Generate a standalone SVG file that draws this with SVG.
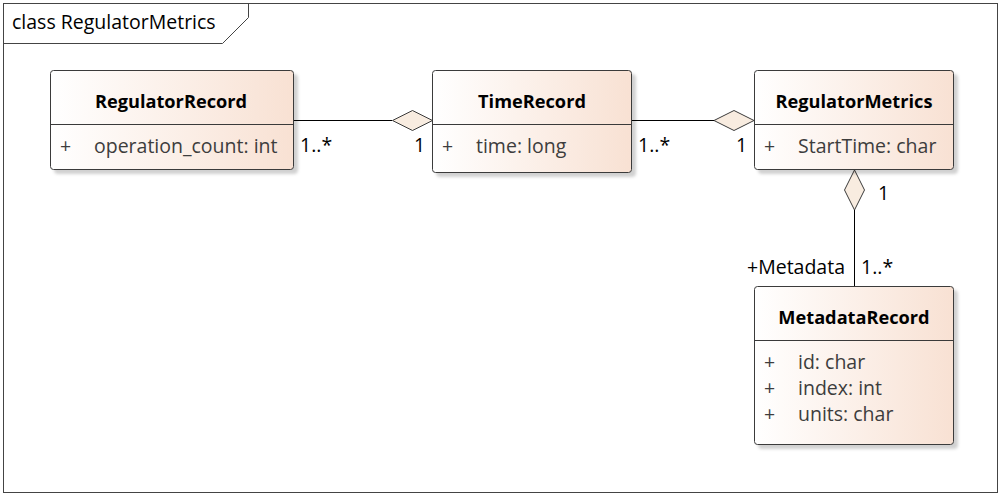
<svg xmlns="http://www.w3.org/2000/svg" width="1004" height="496" viewBox="0 0 1004 496">
<defs>
<linearGradient id="g" x1="0" y1="0" x2="1" y2="0">
<stop offset="0" stop-color="#ffffff"/>
<stop offset="1" stop-color="#f8e1d3"/>
</linearGradient>
<filter id="sh" x="-10%" y="-10%" width="130%" height="130%">
<feDropShadow dx="4" dy="4" stdDeviation="1.5" flood-color="#000" flood-opacity="0.18"/>
</filter>
</defs>
<style>
.box{fill:url(#g);stroke:#3a3a3a;stroke-width:1;filter:url(#sh)}
.sep{stroke:#3a3a3a;stroke-width:1}
.t{font-family:"Open Sans","Noto Sans",sans-serif;font-weight:bold;font-size:18.2px;fill:#000;text-anchor:middle}
.a{font-family:"Open Sans","Noto Sans",sans-serif;font-size:19.5px;fill:#3d3d3d}
.m{font-family:"Open Sans","Noto Sans",sans-serif;font-size:19.5px;fill:#000}
.ln{stroke:#000;stroke-width:1;fill:none}
.dm{fill:#f8ece0;stroke:#3a3a3a;stroke-width:1}
</style>
<rect width="1004" height="496" fill="#fff"/>
<rect x="3.5" y="3.5" width="994" height="489" fill="none" stroke="#444" stroke-width="1"/>
<path d="M3.5 43.5 H222.5 L248.5 17.5 V3.5" fill="none" stroke="#444" stroke-width="1"/>
<text x="12" y="29" style="font-family:'Open Sans','Noto Sans',sans-serif;font-size:19.5px;fill:#000">class RegulatorMetrics</text>

<g id="connectors">
<line class="ln" x1="293" y1="120.5" x2="392" y2="120.5"/>
<polygon class="dm" points="432.5,120.5 412.5,110.5 392.5,120.5 412.5,130.5"/>
<line class="ln" x1="632" y1="120.5" x2="714" y2="120.5"/>
<polygon class="dm" points="754,120.5 734,110.5 714,120.5 734,130.5"/>
<line class="ln" x1="854.5" y1="210" x2="854.5" y2="286"/>
<polygon class="dm" points="854.5,170 864.5,190 854.5,210 844.5,190"/>
<text class="m" x="300" y="152">1..*</text>
<text class="m" x="414" y="152">1</text>
<text class="m" x="638" y="152">1..*</text>
<text class="m" x="736" y="152">1</text>
<text class="m" x="878" y="200">1</text>
<text class="m" x="845" y="274" text-anchor="end">+Metadata</text>
<text class="m" x="861" y="274">1..*</text>
</g>

<g id="RegulatorRecord">
<rect class="box" x="50.5" y="70.5" width="243" height="99" rx="3"/>
<line class="sep" x1="50.5" y1="124.5" x2="293.5" y2="124.5"/>
<text class="t" x="171" y="108">RegulatorRecord</text>
<text class="a" x="60" y="153">+</text>
<text class="a" x="94" y="153">operation_count: int</text>
</g>

<g id="TimeRecord">
<rect class="box" x="432.5" y="70.5" width="199" height="102" rx="3"/>
<line class="sep" x1="432.5" y1="124.5" x2="631.5" y2="124.5"/>
<text class="t" x="532" y="108">TimeRecord</text>
<text class="a" x="442" y="153">+</text>
<text class="a" x="476" y="153">time: long</text>
</g>

<g id="RegulatorMetrics">
<rect class="box" x="754.5" y="70.5" width="199" height="99" rx="3"/>
<line class="sep" x1="754.5" y1="124.5" x2="953.5" y2="124.5"/>
<text class="t" x="854" y="108">RegulatorMetrics</text>
<text class="a" x="764" y="153">+</text>
<text class="a" x="798" y="153">StartTime: char</text>
</g>

<g id="MetadataRecord">
<rect class="box" x="754.5" y="286.5" width="199" height="158" rx="3"/>
<line class="sep" x1="754.5" y1="340.5" x2="953.5" y2="340.5"/>
<text class="t" x="854" y="324">MetadataRecord</text>
<text class="a" x="764" y="369">+</text>
<text class="a" x="798" y="369">id: char</text>
<text class="a" x="764" y="395">+</text>
<text class="a" x="798" y="395">index: int</text>
<text class="a" x="764" y="421">+</text>
<text class="a" x="798" y="421">units: char</text>
</g>
</svg>
